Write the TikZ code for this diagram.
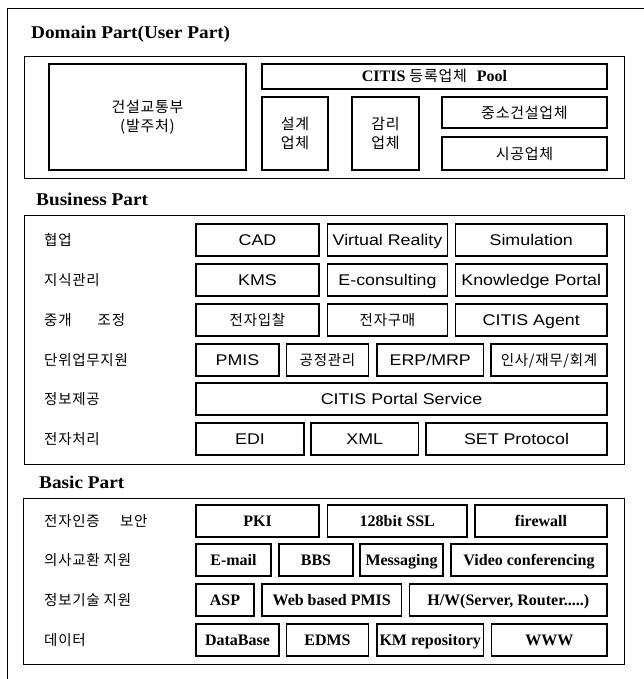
\documentclass[tikz,border=0pt]{standalone}
\usepackage{fontspec}
\setmainfont{Liberation Serif}
\setsansfont{Liberation Sans}[FakeStretch=1.15]
\newfontfamily\kr{Noto Sans CJK KR}[LetterSpace=5]
\newfontfamily\ttlfont{Liberation Serif}[FakeStretch=1.07]
\newcommand\bx[7][]{%
  \pgfmathsetmacro\bw{#5-#3}\pgfmathsetmacro\bh{#6-#4}%
  \node[bx,#1,minimum width=\bw pt,minimum height=\bh pt] (#2) at ({(#3+#5)/2},{(#4+#6)/2}) {#7};}
\newcommand\lab[3]{\node[lbl] (#1) at (44,#2) {#3};}
\begin{document}
\begin{tikzpicture}[x=1pt,y=-1pt,
  bx/.style={draw,line width=1.1pt,inner sep=0pt,outer sep=0pt,align=center},
  cont/.style={draw,line width=0.9pt,inner sep=0pt,outer sep=0pt},
  ttl/.style={anchor=west,inner sep=0pt,font=\fontsize{18}{18}\selectfont\ttlfont\bfseries},
  lbl/.style={anchor=west,inner sep=0pt,font=\fontsize{14.5}{14.5}\selectfont\kr},
  bs/.style={font=\fontsize{15.5}{15.5}\selectfont\sffamily,text height=13pt,text depth=2pt},
  bk/.style={font=\fontsize{14.5}{14.5}\selectfont\kr,text height=13pt,text depth=2pt},
  bb/.style={font=\fontsize{16}{16}\selectfont\bfseries,text height=12.5pt,text depth=2pt},
  dk/.style={font=\fontsize{15}{19}\selectfont\kr}]
\useasboundingbox (0,0) rectangle (644,679);
\draw[line width=1pt] (7,690) -- (7,9) -- (650,9);
% ---------------- Domain
\node[ttl] (tdom) at (31,34) {Domain Part(User Part)};
\bx[cont]{dom}{24}{56}{624}{178}{}
\bx[dk]{moct}{49}{64}{246}{170}{건설교통부\\(발주처)}
\bx[text height=13pt,text depth=2pt]{pool}{262}{64}{607}{89}{{\fontsize{16}{16}\selectfont\bfseries CITIS}\hspace{4pt}{\fontsize{15}{15}\selectfont\kr 등록업체}\hspace{10pt}{\fontsize{16}{16}\selectfont\bfseries Pool}}
\bx[dk]{des}{262}{97}{328}{170}{설계\\업체}
\bx[dk]{sup}{352}{97}{419}{170}{감리\\업체}
\bx[dk]{sme}{442}{97}{607}{128}{중소건설업체}
\bx[dk]{con}{442}{137}{607}{170}{시공업체}
% ---------------- Business
\node[ttl] (tbus) at (36,199) {Business Part};
\bx[cont]{bus}{24}{215}{624}{464}{}
\lab{l1}{240}{협업}
\lab{l2}{280}{지식관리}
\lab{l3}{320}{중개\hspace{1.8em}조정}
\lab{l4}{360}{단위업무지원}
\lab{l5}{399}{정보제공}
\lab{l6}{439}{전자처리}
\bx[bs]{cad}{196}{224}{319}{256}{CAD}
\bx[bs]{vr}{327.5}{224}{447.5}{256}{Virtual Reality}
\bx[bs]{sim}{455.5}{224}{607}{256}{Simulation}
\bx[bs]{kms}{196}{264}{319}{296}{KMS}
\bx[bs]{ec}{327.5}{264}{447.5}{296}{E-consulting}
\bx[bs]{kp}{455.5}{264}{607}{296}{Knowledge Portal}
\bx[bk]{eb}{196}{304}{319}{336}{전자입찰}
\bx[bk]{ep}{327.5}{304}{447.5}{336}{전자구매}
\bx[bs]{ag}{455.5}{304}{607}{336}{CITIS Agent}
\bx[bs]{pmis}{196}{344}{279}{376}{PMIS}
\bx[bk]{proc}{286.5}{344}{368.5}{376}{공정관리}
\bx[bs]{erp}{377}{344}{483.5}{376}{ERP/MRP}
\bx[bk]{hr}{491}{344}{607}{376}{인사/재무/회계}
\bx[bs]{portal}{196}{383}{607}{415}{CITIS Portal Service}
\bx[bs]{edi}{196}{423}{304}{455}{EDI}
\bx[bs]{xml}{311}{423}{418.5}{455}{XML}
\bx[bs]{set}{426}{423}{607}{455}{SET Protocol}
% ---------------- Basic
\node[ttl] (tbas) at (39,482) {Basic Part};
\bx[cont]{bas}{23}{498}{624}{664}{}
\lab{m1}{521}{전자인증\hspace{1.4em}보안}
\lab{m2}{560}{의사교환 지원}
\lab{m3}{600}{정보기술 지원}
\lab{m4}{640}{데이터}
\bx[bb]{pki}{196}{505}{319}{537}{PKI}
\bx[bb]{ssl}{327.5}{505}{467}{537}{128bit SSL}
\bx[bb]{fw}{475}{505}{607}{537}{firewall}
\bx[bb]{mail}{196}{544}{271}{576}{E-mail}
\bx[bb]{bbs}{279}{544}{353}{576}{BBS}
\bx[bb]{msg}{360}{544}{443}{576}{Messaging}
\bx[bb]{vc}{451}{544}{607}{576}{Video conferencing}
\bx[bb]{asp}{196}{584}{254}{616}{ASP}
\bx[bb]{wpm}{262}{584}{401.5}{616}{Web based PMIS}
\bx[bb]{hw}{409.5}{584}{607}{616}{H/W(Server, Router.....)}
\bx[bb]{db}{196}{624}{279}{656}{DataBase}
\bx[bb]{edms}{286.5}{624}{368.5}{656}{EDMS}
\bx[bb]{kmr}{377}{624}{483.5}{656}{KM repository}
\bx[bb]{www}{491.5}{624}{607}{656}{WWW}
\end{tikzpicture}
\end{document}
